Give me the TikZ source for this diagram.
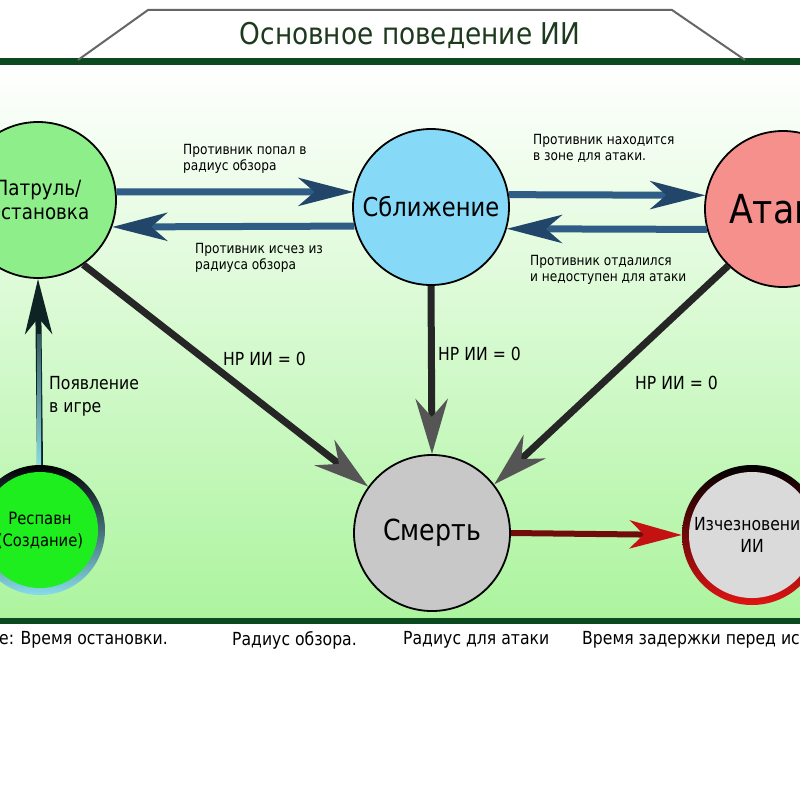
\documentclass[tikz,border=0pt]{standalone}
\usepackage{fontspec}
\setmainfont[FakeStretch=0.87]{DejaVu Sans}
\newfontfamily\titlefont[FakeStretch=0.88]{DejaVu Sans}
\usetikzlibrary{arrows.meta,calc}
\definecolor{framegreen}{HTML}{0B4A1E}
\definecolor{bggreen}{HTML}{ACF49E}
\definecolor{titlegreen}{HTML}{1E3A1E}
\definecolor{patrolgreen}{HTML}{8EEE8A}
\definecolor{approachblue}{HTML}{87DAF7}
\definecolor{attackred}{HTML}{F6908C}
\definecolor{deathgrey}{HTML}{C8C8C8}
\definecolor{vanishgrey}{HTML}{DADADA}
\definecolor{spawngreen}{HTML}{1EEE1E}
\definecolor{spawncyan}{HTML}{88DCEA}
\definecolor{spawndark}{HTML}{0E2424}
\definecolor{vanishred}{HTML}{E01414}
\definecolor{tubeblue}{HTML}{2F5D85}
\definecolor{headblue}{HTML}{22466A}
\definecolor{deathline}{HTML}{262626}
\definecolor{deathhead}{HTML}{555555}
\definecolor{vanishline}{HTML}{720C0C}
\definecolor{vanishhead}{HTML}{C41212}
\begin{document}
\begin{tikzpicture}[x=1pt,y=-1pt,
state/.style={circle,draw=black,line width=1.8pt,minimum size=156pt,inner sep=0pt,align=center},
spawn/.style={circle,minimum size=130pt,inner sep=0pt,align=center,top color=black,bottom color=spawncyan,
  path picture={\fill[spawngreen] (path picture bounding box.center) circle (58pt);}},
vanish/.style={circle,minimum size=140pt,inner sep=0pt,align=center,top color=black,bottom color=vanishred,
  path picture={\fill[vanishgrey] (path picture bounding box.center) circle (63pt);}},
tube/.style={line width=7pt,draw=tubeblue,-{Stealth[length=55pt,width=28pt,inset=16pt,color=headblue]}},
deatharrow/.style={line width=7pt,draw=deathline,-{Stealth[length=55pt,width=32pt,inset=18pt,color=deathhead]}},
spawnarrow/.style={line width=6pt,draw=spawndark,-{Stealth[length=55pt,width=27pt,inset=16pt]}},
vanisharrow/.style={line width=6pt,draw=vanishline,-{Stealth[length=52pt,width=28pt,inset=14pt,color=vanishhead]}},
note/.style={inner sep=0pt,anchor=north west,align=left,font=\fontsize{14}{16}\selectfont},
hp/.style={inner sep=0pt,anchor=west,font=\fontsize{18}{20}\selectfont},
legend/.style={inner sep=0pt,anchor=west,font=\fontsize{18}{20}\selectfont}]
\useasboundingbox (0,0) rectangle (800,800);
\clip (0,0) rectangle (800,800);
\fill[white] (0,0) rectangle (800,800);
\shade[top color=white,bottom color=bggreen] (0,62) rectangle (800,621);
\draw[framegreen,line width=7pt] (0,62)--(800,62);
\draw[framegreen,line width=6pt] (0,621)--(800,621);
\draw[gray!80!black,line width=2pt] (78,60)--(148,10)--(672,10)--(745,60);
\node[titlegreen,font=\titlefont\fontsize{30}{32}\selectfont] (title) at (410,35) {Основное поведение ИИ};
\node[state,fill=patrolgreen,font=\fontsize{21}{24}\selectfont] (patrol) at (38,200) {Патруль/\\Остановка};
\node[state,fill=approachblue,font=\fontsize{26}{28}\selectfont] (approach) at (431,207) {Сближение};
\node[state,fill=attackred,font=\fontsize{40}{42}\selectfont] (attack) at (783,209) {Атака};
\node[state,fill=deathgrey,font=\fontsize{29}{30}\selectfont] (death) at (432,533) {Смерть};
\node[spawn,font=\fontsize{17}{22}\selectfont] (respawn) at (40,530) {Респавн\\(Создание)};
\node[vanish,font=\fontsize{18}{22}\selectfont] (vanish) at (752,535) {Изчезновение\\ИИ};
\draw[tube] (patrol.6) -- (approach.169);
\draw[tube] (approach.194) -- (patrol.340);
\draw[tube] (approach.9) -- (attack.170);
\draw[tube] (attack.195) -- (approach.344);
\draw[deatharrow] (patrol.305) -- (death.144);
\draw[deatharrow] (approach.south) -- (death.north);
\draw[deatharrow] (attack.226) -- (death.38);
\draw[vanisharrow] (death.east) -- (vanish.west);
\draw[spawnarrow] (respawn.north) -- (patrol.south);
\shade[top color=spawndark!70!spawncyan,bottom color=spawncyan] ($(respawn.north)+(-3,0)$) rectangle ($(patrol.south)+(3,56)$);
\node[note] (seen) at (183,144) {Противник попал в\\радиус обзора};
\node[note] (lost) at (195,243) {Противник исчез из\\радиуса обзора};
\node[note] (inrange) at (533,134) {Противник находится\\в зоне для атаки.};
\node[note] (outrange) at (530,255) {Противник отдалился\\и недоступен для атаки};
\node[hp] (hppatrol) at (223,359) {НР ИИ = 0};
\node[hp] (hpapproach) at (438,354) {НР ИИ = 0};
\node[hp] (hpattack) at (635,383) {НР ИИ = 0};
\node[inner sep=0pt,anchor=north west,align=left,font=\fontsize{18}{23}\selectfont] (appear) at (49,376) {Появление\\в игре};
\node[legend] (legwait) at (-1,640) {е: Время остановки.};
\node[legend] (legsight) at (232,640) {Радиус обзора.};
\node[legend] (legattack) at (403,640) {Радиус для атаки};
\node[legend] (legdelay) at (582,640) {Время задержки перед исчезновением};
\end{tikzpicture}
\end{document}
